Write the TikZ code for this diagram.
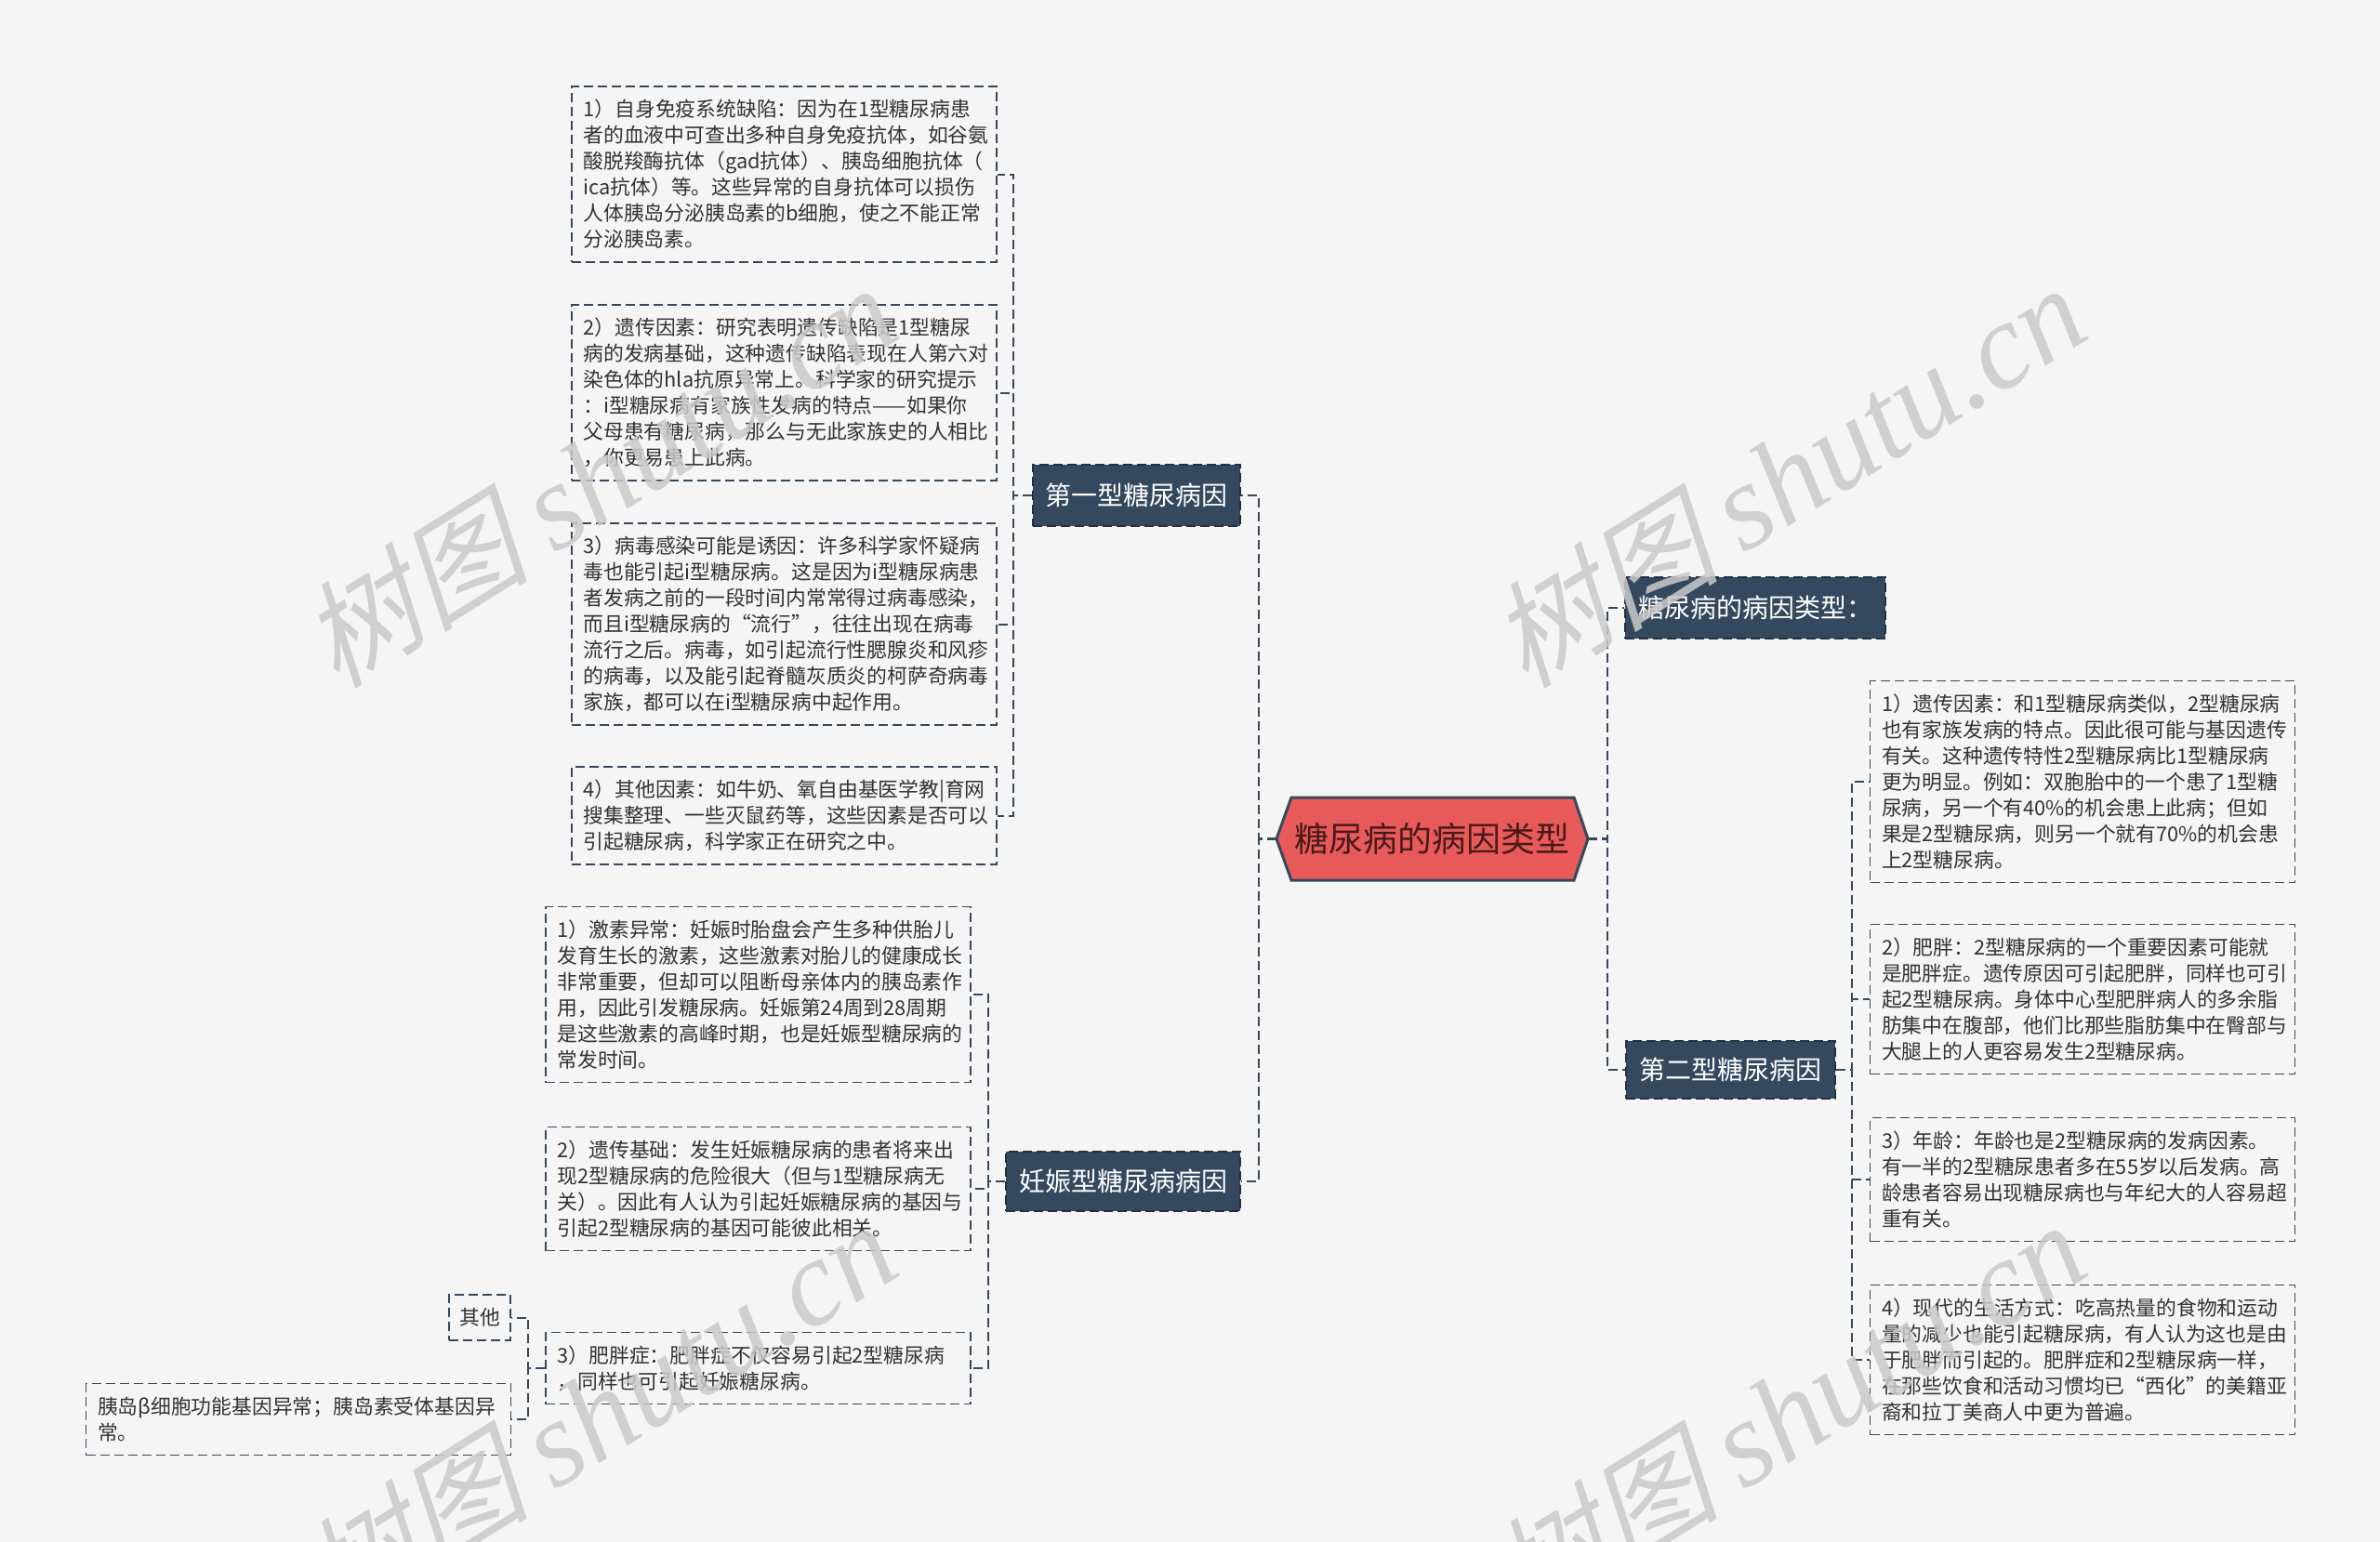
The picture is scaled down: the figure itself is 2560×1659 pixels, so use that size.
\documentclass[tikz,border=0pt]{standalone}
\usepackage{fontspec}
\setmainfont{Noto Sans CJK SC}
\newfontfamily\wmcjk[FakeSlant=0.25]{Noto Sans CJK SC}
\newfontfamily\wmlat{Liberation Serif}
\usetikzlibrary{calc}
\definecolor{bg}{HTML}{F5F5F5}
\definecolor{dk}{HTML}{34495E}
\definecolor{dkb}{HTML}{22313F}
\definecolor{rootred}{HTML}{E85A5A}
\definecolor{roottxt}{HTML}{4A1A1A}
\definecolor{txt}{HTML}{333333}
\definecolor{wm}{HTML}{CACACA}
\begin{document}
\begin{tikzpicture}[x=0.5pt,y=-0.5pt,
  leaf/.style={draw=dk, line width=0.75pt, dash pattern=on 5pt off 2.5pt, text=txt,
    font=\fontsize{10.9}{14}\selectfont, align=left, text width=216pt,
    inner xsep=6.25pt, inner ysep=0pt},
  small/.style={draw=dk, line width=0.75pt, dash pattern=on 5pt off 2.5pt, text=txt,
    font=\fontsize{10.9}{14}\selectfont, inner sep=0pt},
  topic/.style={fill=dk, draw=dkb, line width=0.75pt, dash pattern=on 5pt off 2.5pt,
    text=white, font=\fontsize{14}{16}\selectfont, inner sep=0pt},
  conn/.style={draw=dk, line width=1pt, dash pattern=on 5pt off 2.5pt},
  wmark/.style={text=wm, rotate=32, inner sep=0pt, opacity=0.85}]

\useasboundingbox (0,0) rectangle (2560,1659);
\fill[bg] (0,0) rectangle (2560,1659);

% trunk coordinates
\coordinate (rl) at (1354,0);
\coordinate (rr) at (1729,0);
\coordinate (c1) at (1090,0);
\coordinate (cg) at (1063,0);
\coordinate (c2) at (1992,0);
\coordinate (c3) at (568,0);

% root hexagon
\filldraw[fill=rootred, draw=dk, line width=1.5pt, line join=miter]
  (1373,902.5) -- (1389,858) -- (1693,858) -- (1708,902.5) -- (1693,947) -- (1389,947) -- cycle;
\node[minimum width=167.5pt, minimum height=44.5pt, inner sep=0pt, text=roottxt,
  font=\fontsize{18.5}{20}\selectfont] (root) at (1540.5,902.5) {糖尿病的病因类型};

% topics
\node[topic, minimum width=111.5pt, minimum height=33pt] (t1) at (1222.5,533) {第一型糖尿病因};
\node[topic, minimum width=140pt, minimum height=33pt] (ty) at (1888,654) {糖尿病的病因类型：};
\node[topic, minimum width=112.5pt, minimum height=31pt] (t2) at (1861.5,1151) {第二型糖尿病因};
\node[topic, minimum width=126pt, minimum height=32pt] (g) at (1208,1271) {妊娠型糖尿病病因};

% type 1 children
\node[leaf, minimum height=94.5pt] (a1) at (843.5,187.5) {1）自身免疫系统缺陷：因为在1型糖尿病患\\者的血液中可查出多种自身免疫抗体，如谷氨\\酸脱羧酶抗体（gad抗体）、胰岛细胞抗体（\\ica抗体）等。这些异常的自身抗体可以损伤\\人体胰岛分泌胰岛素的b细胞，使之不能正常\\分泌胰岛素。};
\node[leaf, minimum height=94.5pt] (a2) at (843.5,422.5) {2）遗传因素：研究表明遗传缺陷是1型糖尿\\病的发病基础，这种遗传缺陷表现在人第六对\\染色体的hla抗原异常上。科学家的研究提示\\：i型糖尿病有家族性发病的特点——如果你\\父母患有糖尿病，那么与无此家族史的人相比\\，你更易患上此病。};
\node[leaf, minimum height=108.5pt] (a3) at (843.5,671.5) {3）病毒感染可能是诱因：许多科学家怀疑病\\毒也能引起i型糖尿病。这是因为i型糖尿病患\\者发病之前的一段时间内常常得过病毒感染，\\而且i型糖尿病的“流行”，往往出现在病毒\\流行之后。病毒，如引起流行性腮腺炎和风疹\\的病毒，以及能引起脊髓灰质炎的柯萨奇病毒\\家族，都可以在i型糖尿病中起作用。};
\node[leaf, minimum height=52.5pt] (a4) at (843.5,877.5) {4）其他因素：如牛奶、氧自由基医学教|育网\\搜集整理、一些灭鼠药等，这些因素是否可以\\引起糖尿病，科学家正在研究之中。};

% gestational children
\node[leaf, minimum height=94.5pt] (g1) at (815.5,1070) {1）激素异常：妊娠时胎盘会产生多种供胎儿\\发育生长的激素，这些激素对胎儿的健康成长\\非常重要，但却可以阻断母亲体内的胰岛素作\\用，因此引发糖尿病。妊娠第24周到28周期\\是这些激素的高峰时期，也是妊娠型糖尿病的\\常发时间。};
\node[leaf, minimum height=66.5pt] (g2) at (815.5,1279) {2）遗传基础：发生妊娠糖尿病的患者将来出\\现2型糖尿病的危险很大（但与1型糖尿病无\\关）。因此有人认为引起妊娠糖尿病的基因与\\引起2型糖尿病的基因可能彼此相关。};
\node[leaf, minimum height=38.5pt] (g3) at (815.5,1472) {3）肥胖症：肥胖症不仅容易引起2型糖尿病\\，同样也可引起妊娠糖尿病。};
\node[small, minimum width=33pt, minimum height=24.5pt] (o1) at (516,1417.5) {其他};
\node[leaf, minimum height=38.5pt] (o2) at (321,1527) {胰岛β细胞功能基因异常；胰岛素受体基因异\\常。};

% type 2 children
\node[leaf, minimum height=108.5pt] (b1) at (2240,841) {1）遗传因素：和1型糖尿病类似，2型糖尿病\\也有家族发病的特点。因此很可能与基因遗传\\有关。这种遗传特性2型糖尿病比1型糖尿病\\更为明显。例如：双胞胎中的一个患了1型糖\\尿病，另一个有40\%的机会患上此病；但如\\果是2型糖尿病，则另一个就有70\%的机会患\\上2型糖尿病。};
\node[leaf, minimum height=80.5pt] (b2) at (2240,1075) {2）肥胖：2型糖尿病的一个重要因素可能就\\是肥胖症。遗传原因可引起肥胖，同样也可引\\起2型糖尿病。身体中心型肥胖病人的多余脂\\肪集中在腹部，他们比那些脂肪集中在臀部与\\大腿上的人更容易发生2型糖尿病。};
\node[leaf, minimum height=66.5pt] (b3) at (2240,1269) {3）年龄：年龄也是2型糖尿病的发病因素。\\有一半的2型糖尿患者多在55岁以后发病。高\\龄患者容易出现糖尿病也与年纪大的人容易超\\重有关。};
\node[leaf, minimum height=80.5pt] (b4) at (2240,1463) {4）现代的生活方式：吃高热量的食物和运动\\量的减少也能引起糖尿病，有人认为这也是由\\于肥胖而引起的。肥胖症和2型糖尿病一样，\\在那些饮食和活动习惯均已“西化”的美籍亚\\裔和拉丁美商人中更为普遍。};

% connectors
\foreach \n in {t1,g}
  \draw[conn, line width=1.25pt] (root.west) -- (root.west -| rl) |- (\n.east);
\foreach \n in {ty,t2}
  \draw[conn, line width=1.25pt] (root.east) -- (root.east -| rr) |- (\n.west);
\foreach \n in {a1,a2,a3,a4}
  \draw[conn] (t1.west) -- (t1.west -| c1) |- (\n.east);
\foreach \n in {g1,g2,g3}
  \draw[conn] (g.west) -- (g.west -| cg) |- (\n.east);
\foreach \n in {o1,o2}
  \draw[conn] (g3.west) -- (g3.west -| c3) |- (\n.east);
\foreach \n in {b1,b2,b3,b4}
  \draw[conn] (t2.east) -- (t2.east -| c2) |- (\n.west);

% watermarks
\foreach \p/\nm in {{(643,512)}/wm1, {(1922,512)}/wm2, {(643,1520)}/wm3, {(1922,1520)}/wm4}
  \node[wmark] (\nm) at \p {{\wmcjk\fontsize{62}{66}\selectfont 树图}\hspace{14pt}{\wmlat\itshape\fontsize{66}{70}\selectfont shutu.cn}};
\end{tikzpicture}
\end{document}
